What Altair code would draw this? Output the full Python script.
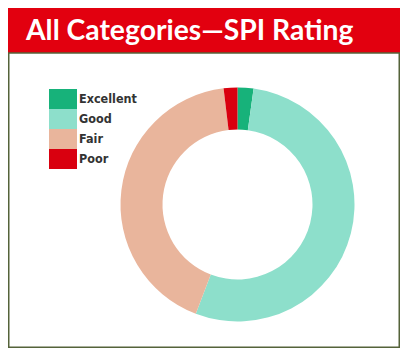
import altair as alt
import pandas as pd

categories = ["Excellent", "Good", "Fair", "Poor"]
shares = [2.2, 53.6, 42.3, 1.9]
colors = ["#17b27a", "#8ddfcb", "#e9b59c", "#d9000f"]
title_text = "All Categories\u2014SPI Rating"

W, H = 392, 340

df = pd.DataFrame({"category": categories, "share": shares, "order": list(range(len(categories)))})
one = pd.DataFrame({"t": [title_text]})

header = alt.Chart(one).mark_rect(color="#e2000f").encode(
    x=alt.value(0), x2=alt.value(W), y=alt.value(0), y2=alt.value(45)
)
border = alt.Chart(one).mark_rect(fill="white", stroke="#55633a", strokeWidth=1.5).encode(
    x=alt.value(0.75), x2=alt.value(W - 0.75), y=alt.value(45), y2=alt.value(H - 0.75)
)
title = alt.Chart(one).mark_text(
    font="Lato", fontWeight="bold", fontSize=28.3, color="white", align="left", baseline="alphabetic"
).encode(x=alt.value(18), y=alt.value(31.5), text="t:N")

donut = alt.Chart(df).mark_arc(innerRadius=75, outerRadius=117, stroke=None).encode(
    theta=alt.Theta("share:Q", stack=True),
    order=alt.Order("order:Q"),
    color=alt.Color(
        "category:N",
        sort=categories,
        scale=alt.Scale(domain=categories, range=colors),
        legend=alt.Legend(
            title=None,
            orient="none",
            legendX=45,
            legendY=81,
            symbolType="M-1.4,-1L1.4,-1L1.4,1L-1.4,1Z",
            symbolSize=400,
            symbolStrokeWidth=0,
            symbolOpacity=1,
            rowPadding=0,
            labelFont="DejaVu Sans Condensed",
            labelFontWeight="bold",
            labelFontSize=12.5,
            labelColor="#333333",
            labelOffset=6,
        ),
    ),
    x=alt.value(229.5),
    y=alt.value(196.5),
)

chart = alt.layer(header, border, title, donut).properties(
    width=W, height=H,
    autosize=alt.AutoSizeParams(type="fit", contains="padding"),
    padding=0,
).configure_view(stroke=None)

chart.save("out.html", embed_options={"renderer": "svg", "actions": False})
